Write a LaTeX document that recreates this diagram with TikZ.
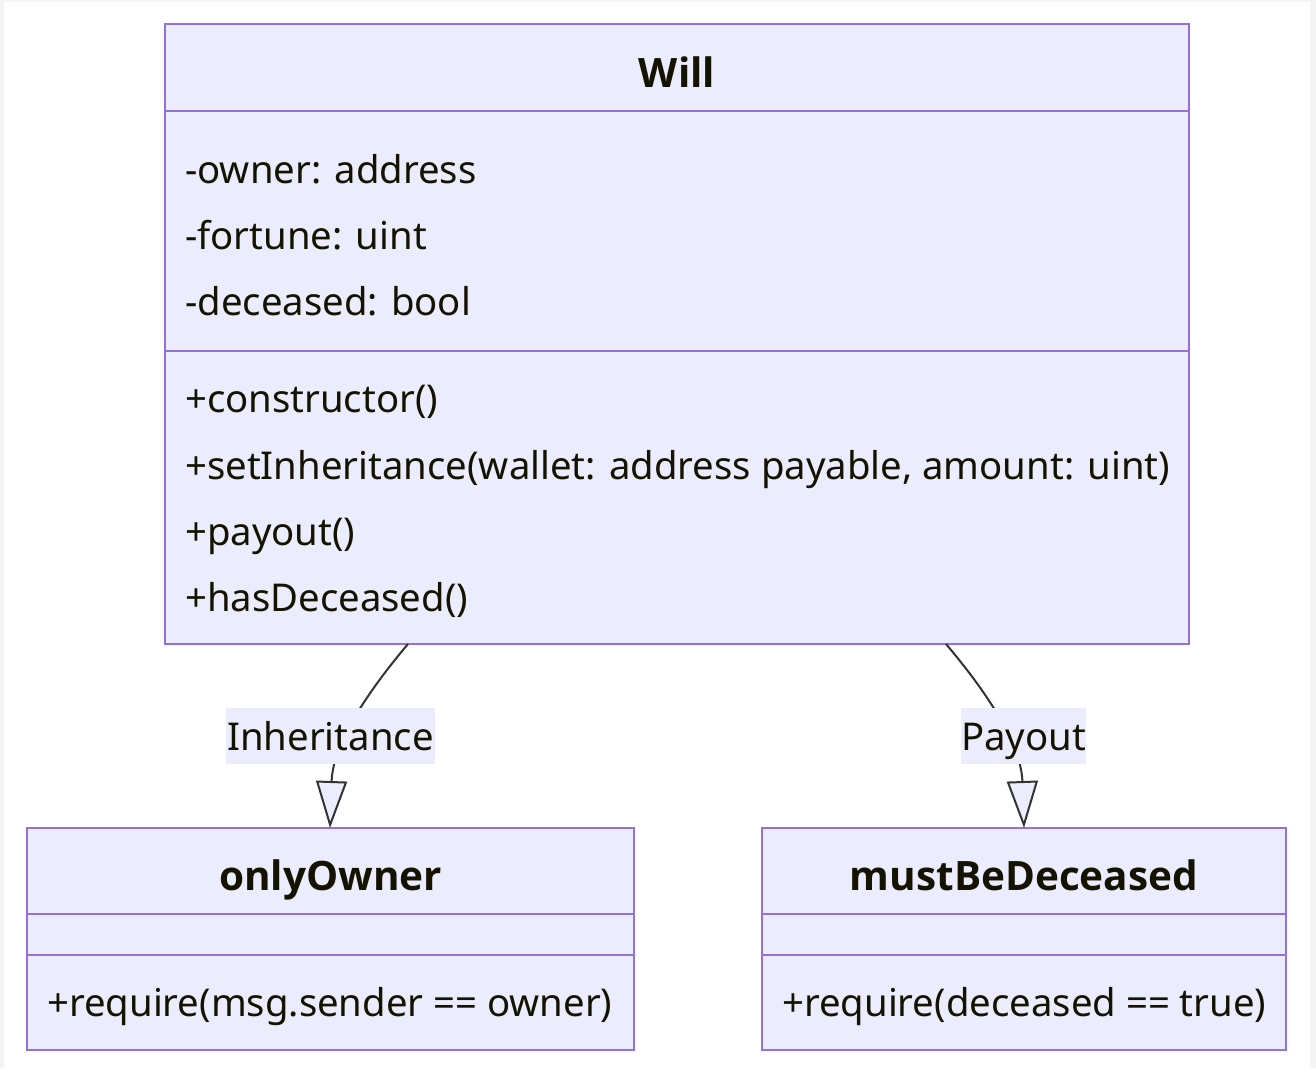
\documentclass[tikz,border=0pt]{standalone}
\usepackage{fontspec}
\setmainfont{Noto Sans}
\newfontfamily\titlefont{Open Sans}
\usetikzlibrary{arrows.meta}
\definecolor{umlfill}{HTML}{ECECFF}
\definecolor{umlborder}{HTML}{9370DB}
\definecolor{umltext}{HTML}{131300}
\definecolor{edgecol}{HTML}{333333}
\definecolor{framegray}{HTML}{F5F5F5}
\tikzset{
  classbox/.style={draw=umlborder, fill=umlfill, line width=2pt, rectangle, inner sep=0pt},
  divider/.style={draw=umlborder, line width=2pt},
  member/.style={anchor=base west, inner sep=0pt, text=umltext, font=\fontsize{38.3}{46}\selectfont},
  ctitle/.style={anchor=base, inner sep=0pt, text=umltext, font=\titlefont\fontsize{40.5}{48}\selectfont\bfseries},
  rel/.style={draw=edgecol, line width=2pt, -{Triangle[length=47pt, width=31pt, fill=umlfill, line width=2pt]}},
  rellabel/.style={fill=umlfill, inner sep=0pt, minimum height=56pt, text height=36pt, text depth=8pt, text=umltext, font=\fontsize{38.3}{46}\selectfont}
}
\begin{document}
\begin{tikzpicture}[x=1pt,y=-1pt]
\fill[framegray] (0,0) rectangle (1316,1068);
\fill[white] (4,2) rectangle (1310,1068);
\useasboundingbox (0,0) rectangle (1316,1068);

% Will
\node[classbox, minimum width=1024pt, minimum height=620pt] (will) at (677,334) {};
\draw[divider] (165,111) -- (1189,111);
\draw[divider] (165,351) -- (1189,351);
\node[ctitle] (willt) at (677,87) {Will};
\node[member] (w1) at (185,183) {-owner: address};
\node[member] (w2) at (185,249) {-fortune: uint};
\node[member] (w3) at (185,315) {-deceased: bool};
\node[member] (w4) at (185,412) {+constructor()};
\node[member] (w5) at (185,479) {+setInheritance(wallet: address payable, amount: uint)};
\node[member] (w6) at (185,545) {+payout()};
\node[member] (w7) at (185,611) {+hasDeceased()};

% onlyOwner
\node[classbox, minimum width=607pt, minimum height=222pt] (oo) at (330.5,939) {};
\draw[divider] (27,914) -- (634,914);
\draw[divider] (27,955) -- (634,955);
\node[ctitle] (oot) at (330.5,890) {onlyOwner};
\node[member] (oo1) at (47,1016) {+require(msg.sender == owner)};

% mustBeDeceased
\node[classbox, minimum width=524pt, minimum height=222pt] (mb) at (1024,939) {};
\draw[divider] (762,914) -- (1286,914);
\draw[divider] (762,955) -- (1286,955);
\node[ctitle] (mbt) at (1024,890) {mustBeDeceased};
\node[member] (mb1) at (782,1016) {+require(deceased == true)};

% relations
\coordinate (s1) at (408,644);
\coordinate (t1) at (330,828);
\coordinate (s2) at (946,644);
\coordinate (t2) at (1024,828);
\draw[rel] (s1) .. controls (375,683) and (333,740) .. (t1);
\draw[rel] (s2) .. controls (979,683) and (1021,740) .. (t2);
\node[rellabel, minimum width=209pt] (l1) at (330.5,736) {Inheritance};
\node[rellabel, minimum width=125pt] (l2) at (1023.5,736) {Payout};
\end{tikzpicture}
\end{document}
